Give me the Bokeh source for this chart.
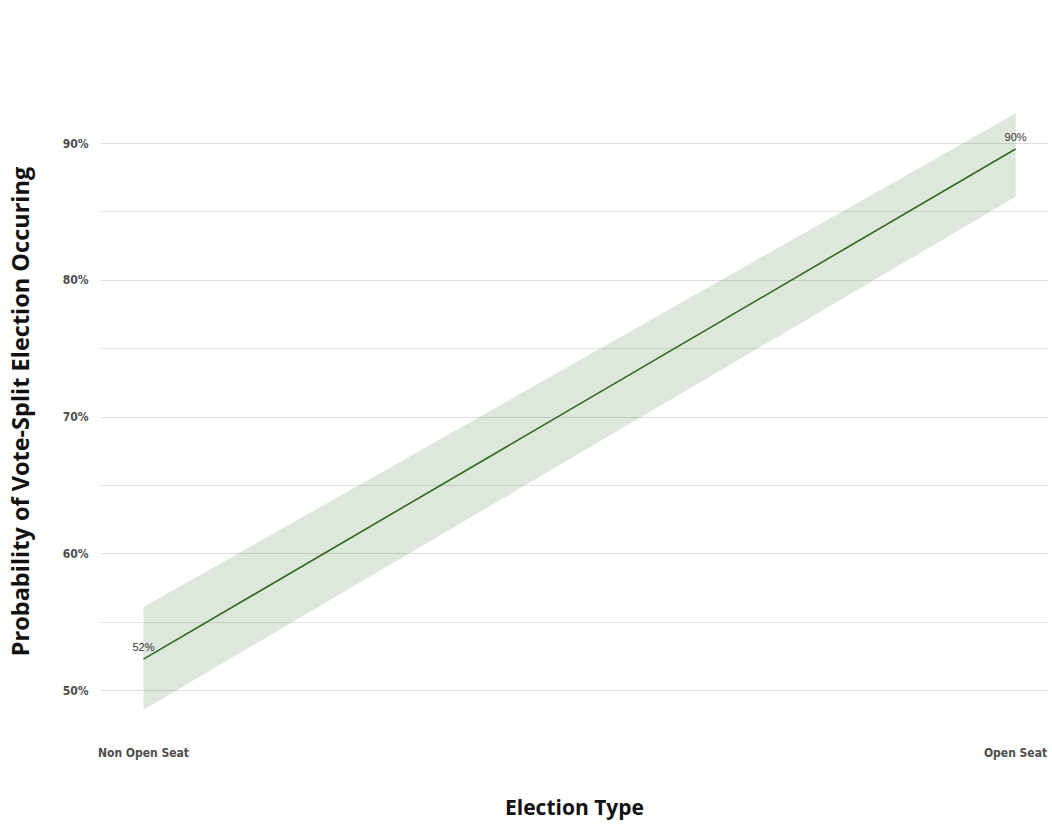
from bokeh.plotting import figure
from bokeh.models import ColumnDataSource, FixedTicker, Range1d
from bokeh.core.properties import value
from bokeh.embed import file_html
from bokeh.resources import INLINE

# ---- data ----
categories = ["Non Open Seat", "Open Seat"]
x_pos = [0, 1]
prob = [0.523, 0.896]
lower = [0.486, 0.861]
upper = [0.561, 0.922]
point_labels = ["52%", "90%"]
y_ticks = [0.5, 0.6, 0.7, 0.8, 0.9]
y_tick_labels = ["50%", "60%", "70%", "80%", "90%"]

src = ColumnDataSource(dict(x=x_pos, y=prob, lo=lower, hi=upper, lab=point_labels))

W, H = 1048, 823
p = figure(width=W, height=H, output_backend="svg", toolbar_location=None,
           x_range=Range1d(-0.0493, 1.0378), y_range=Range1d(0.4642, 0.9439),
           min_border_left=100, min_border_right=0, min_border_top=83, min_border_bottom=H - 739)
p.outline_line_color = None
p.background_fill_color = "white"
p.border_fill_color = "white"

p.varea(x="x", y1="lo", y2="hi", source=src, fill_color="#2e6b1f", fill_alpha=0.16)
p.line(x="x", y="y", source=src, line_color="#2e6b1f", line_width=1.6)
p.text(x="x", y="y", text="lab", source=src, text_font=value("Liberation Sans"),
       text_font_size="11px", text_color="#333333", text_align="center",
       text_baseline="bottom", y_offset=-6)

# axes
p.xaxis.ticker = FixedTicker(ticks=x_pos)
p.xaxis.major_label_overrides = {x: c for x, c in zip(x_pos, categories)}
p.yaxis.ticker = FixedTicker(ticks=y_ticks, minor_ticks=[0.55, 0.65, 0.75, 0.85])
p.yaxis.major_label_overrides = {t: l for t, l in zip(y_ticks, y_tick_labels)}
for ax in (p.xaxis, p.yaxis):
    ax.axis_line_color = None
    ax.major_tick_line_color = None
    ax.minor_tick_line_color = None
    ax.major_label_text_font = "DejaVu Sans Condensed"
    ax.major_label_text_font_style = "bold"
    ax.major_label_text_font_size = "12px"
    ax.major_label_text_color = "#4d4d4d"
p.xaxis.major_label_standoff = 0
p.yaxis.major_label_standoff = 6

p.xaxis.axis_label = "Election Type"
p.yaxis.axis_label = "Probability of Vote-Split Election Occuring"
p.xaxis.axis_label_text_font = "Open Sans"
p.yaxis.axis_label_text_font = "Open Sans"
p.xaxis.axis_label_text_font_style = "bold"
p.yaxis.axis_label_text_font_style = "bold"
p.xaxis.axis_label_text_font_size = "21px"
p.yaxis.axis_label_text_font_size = "23.5px"
p.xaxis.axis_label_text_color = "#111111"
p.yaxis.axis_label_text_color = "#111111"
p.xaxis.axis_label_standoff = 30
p.yaxis.axis_label_standoff = 24

# grid
p.xgrid.grid_line_color = None
p.ygrid.grid_line_color = "#dedede"
p.ygrid.grid_line_width = 1
p.ygrid.minor_grid_line_color = "#e3e3e3"
p.ygrid.minor_grid_line_width = 1

open("out.html", "w").write(file_html(p, INLINE))
